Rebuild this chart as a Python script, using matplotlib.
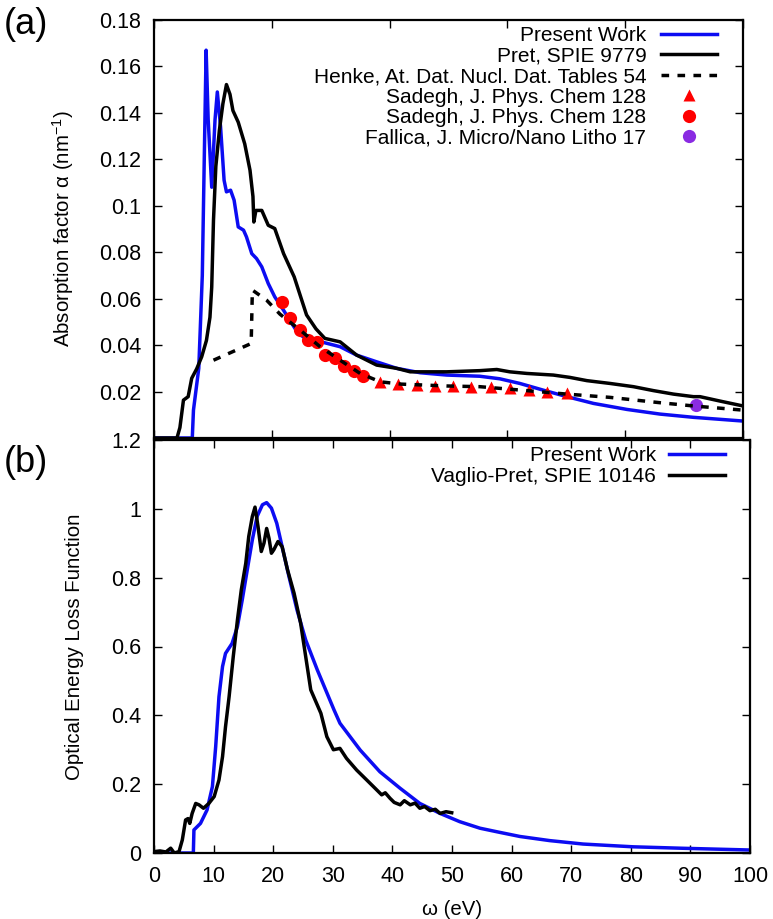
import matplotlib
matplotlib.use('Agg')
import matplotlib.pyplot as plt

plt.rcParams['font.family'] = ['Liberation Sans', 'DejaVu Sans']
plt.rcParams['mathtext.fontset'] = 'custom'
plt.rcParams['mathtext.rm'] = 'Liberation Sans'

# (a) absorption factor, nm^-1
pw_a_x = [0, 6.5, 6.7, 7.6, 8.2, 8.6, 8.85, 9.2, 9.8, 10.36, 10.75, 11.3, 11.9, 12.3, 13.0, 13.6,
          14.3, 15.2, 15.7, 16.6, 17.4, 18.3, 19.4, 20.5, 22.0, 23.4, 24.5, 26.0, 28.7, 31.6, 34.4,
          37.8, 41.2, 45.2, 49.7, 55.3, 58.7, 62.1, 66.1, 70.1, 74.6, 80.3, 85.9, 91.6, 100]
pw_a_y = [0, 0, 0.012, 0.03, 0.07, 0.13, 0.167, 0.137, 0.108, 0.137, 0.149, 0.134, 0.111, 0.106,
          0.1067, 0.1024, 0.0909, 0.0895, 0.0866, 0.0794, 0.0773, 0.0737, 0.0665, 0.0608, 0.055,
          0.0493, 0.045, 0.0425, 0.0412, 0.0393, 0.0357, 0.0328, 0.030, 0.0281, 0.0271, 0.0266,
          0.0255, 0.0235, 0.0206, 0.0178, 0.0149, 0.0123, 0.0103, 0.0089, 0.0073]

pret_a_x = [0, 3.9, 4.4, 5.0, 5.8, 6.4, 7.25, 8.1, 8.9, 9.5, 9.8, 10.1, 10.5, 11.1, 11.7, 12.3,
            12.9, 13.4, 14.3, 15.4, 16.3, 16.8, 16.95, 17.3, 18.3, 19.4, 20.5, 22.0, 23.8, 25.9,
            27.5, 29.0, 31.6, 34.4, 37.8, 41.2, 43.5, 49.7, 55.3, 58.2, 60.4, 63.3, 67.8, 70.6,
            73.5, 77.4, 81.4, 84.8, 88.2, 91.6, 92.7, 96.1, 100]
pret_a_y = [0, 0, 0.0045, 0.0163, 0.0178, 0.0257, 0.0298, 0.035, 0.042, 0.052, 0.065, 0.0938,
            0.117, 0.1325, 0.144, 0.1522, 0.148, 0.141, 0.136, 0.1267, 0.1153, 0.104, 0.093,
            0.098, 0.098, 0.0916, 0.0902, 0.0794, 0.0694, 0.053, 0.047, 0.0429, 0.0414, 0.0357,
            0.0314, 0.030, 0.0285, 0.0285, 0.029, 0.0295, 0.0285, 0.0278, 0.0271, 0.0261, 0.0247,
            0.0235, 0.0221, 0.0204, 0.0189, 0.0178, 0.0178, 0.0159, 0.0138]

henke_x = [10.1, 16.5, 16.7, 19.1, 21.4, 24.8, 28.2, 31.6, 35.0, 38.4, 42.0, 49.7, 55.3, 63.3,
           70.1, 77.4, 85.9, 91.6, 100]
henke_y = [0.0335, 0.0407, 0.0637, 0.0594, 0.0533, 0.0465, 0.0393, 0.0335, 0.0278, 0.0242,
           0.0232, 0.0224, 0.0221, 0.0204, 0.0189, 0.0175, 0.0152, 0.0138, 0.012]

sadegh_tri_x = [38.4, 41.5, 44.6, 47.7, 50.8, 53.9, 57.2, 60.4, 63.6, 66.8, 70.1]
sadegh_tri_y = [0.0243, 0.0234, 0.0228, 0.0226, 0.0224, 0.0221, 0.0221, 0.0214, 0.0206, 0.0199, 0.0192]

sadegh_circ_x = [21.7, 23.1, 24.8, 26.2, 27.7, 29.0, 30.7, 32.3, 34.0, 35.5]
sadegh_circ_y = [0.0587, 0.0517, 0.0465, 0.0421, 0.0412, 0.0357, 0.0343, 0.0309, 0.029, 0.0269]

fallica_x = [92.0]
fallica_y = [0.0142]

# (b) optical energy loss function
pw_b_x = [0, 6.6, 6.7, 7.8, 8.9, 9.8, 10.35, 10.9, 11.5, 12.0, 13.1, 14.0, 14.8, 15.65, 16.5,
          17.3, 18.2, 18.9, 19.7, 20.6, 21.5, 22.65, 24.0, 25.45, 27.4, 30.2, 31.2, 34.6, 37.9,
          41.3, 44.6, 48.0, 51.3, 54.7, 58.0, 61.4, 66.4, 72.0, 80.4, 88.8, 100]
pw_b_y = [0, 0, 0.067, 0.086, 0.125, 0.193, 0.309, 0.454, 0.542, 0.58, 0.609, 0.658, 0.735,
          0.823, 0.91, 0.978, 1.012, 1.018, 1.002, 0.958, 0.89, 0.803, 0.706, 0.619, 0.532,
          0.416, 0.377, 0.299, 0.236, 0.188, 0.144, 0.115, 0.091, 0.072, 0.06, 0.048, 0.036,
          0.026, 0.018, 0.0137, 0.0087]

vp_b_x = [0, 1.0, 2.0, 2.8, 3.4, 4.2, 4.75, 5.3, 5.7, 6.0, 6.4, 7.0, 7.55, 8.3, 9.2, 10.1, 10.9,
          11.5, 12.0, 12.6, 13.3, 14.0, 14.65, 15.4, 15.9, 16.5, 16.95, 17.45, 18.0, 18.45, 18.9,
          19.3, 19.7, 20.1, 20.8, 21.5, 22.4, 23.5, 24.6, 25.45, 26.3, 28.0, 29.0, 30.1, 31.2,
          32.3, 34.0, 35.7, 37.1, 38.2, 38.8, 39.6, 40.3, 41.3, 42.0, 43.0, 43.8, 44.6, 45.4,
          46.3, 47.2, 48.0, 49.0, 49.95]
vp_b_y = [0.004, 0.006, 0.003, 0.014, 0.0, 0.004, 0.038, 0.096, 0.1, 0.086, 0.115, 0.144, 0.14,
          0.13, 0.144, 0.164, 0.212, 0.28, 0.367, 0.454, 0.571, 0.677, 0.765, 0.842, 0.92, 0.978,
          1.005, 0.949, 0.876, 0.9, 0.943, 0.914, 0.871, 0.881, 0.905, 0.89, 0.823, 0.755, 0.668,
          0.571, 0.474, 0.406, 0.338, 0.3, 0.304, 0.275, 0.241, 0.212, 0.188, 0.169, 0.175, 0.159,
          0.147, 0.14, 0.152, 0.14, 0.145, 0.13, 0.135, 0.123, 0.127, 0.115, 0.12, 0.117]

ticks_a = [0.02, 0.04, 0.06, 0.08, 0.1, 0.12, 0.14, 0.16, 0.18]
ticks_a_lab = ['0.02', '0.04', '0.06', '0.08', '0.1', '0.12', '0.14', '0.16', '0.18']
ticks_b = [0, 0.2, 0.4, 0.6, 0.8, 1.0, 1.2]
ticks_b_lab = ['0', '0.2', '0.4', '0.6', '0.8', '1', '1.2']
ticks_x = list(range(0, 101, 10))

blue = '#0c0cf2'
fs = 15
fs_lab = 14.7
fs_tick = 15.5
lw = 2.5
W, H = 773, 919

fig = plt.figure(figsize=(W / 100, H / 100), dpi=100)
ax1 = fig.add_axes([154 / W, 1 - 438 / H, 589 / W, 418 / H])
ax2 = fig.add_axes([154 / W, 1 - 853 / H, 596 / W, 413 / H])

ax1.plot(pw_a_x, pw_a_y, color=blue, lw=lw, label='Present Work', zorder=2)
ax1.plot(pret_a_x, pret_a_y, color='black', lw=lw, label='Pret, SPIE 9779', zorder=3)
ax1.plot(sadegh_tri_x, sadegh_tri_y, ls='none', marker='^', ms=8, color='red', mec='none',
         label='Sadegh, J. Phys. Chem 128', zorder=4)
ax1.plot(sadegh_circ_x, sadegh_circ_y, ls='none', marker='o', ms=9.5, color='red', mec='none',
         label='Sadegh, J. Phys. Chem 128', zorder=4)
ax1.plot(fallica_x, fallica_y, ls='none', marker='o', ms=9.5, color='#8a2be2', mec='none',
         label='Fallica, J. Micro/Nano Litho 17', zorder=4)
ax1.plot(henke_x, henke_y, color='black', lw=lw, dashes=(2.2, 2.4),
         label='Henke, At. Dat. Nucl. Dat. Tables 54', zorder=5)

handles, labels = ax1.get_legend_handles_labels()
order = [0, 1, 5, 2, 3, 4]
ax1.legend([handles[i] for i in order], [labels[i] for i in order], loc='upper right',
           bbox_to_anchor=(0.956, 0.985), frameon=False, markerfirst=False, fontsize=fs,
           handlelength=2.7, handletextpad=0.7, labelspacing=0.07, borderpad=0,
           borderaxespad=0)

ax1.set_xlim(0, 100)
ax1.set_ylim(0, 0.18)
ax1.set_xticks([0, 20, 40, 60, 80, 100])
ax1.set_xticklabels([])
ax1.set_yticks(ticks_a)
ax1.set_yticklabels(ticks_a_lab)
ax1.set_ylabel('Absorption factor α (nm$^{-1}$)', fontsize=fs_lab, labelpad=17)

ax2.plot(pw_b_x, pw_b_y, color=blue, lw=lw, label='Present Work', zorder=2)
ax2.plot(vp_b_x, vp_b_y, color='black', lw=lw, label='Vaglio-Pret, SPIE 10146', zorder=3)
ax2.legend(loc='upper right', bbox_to_anchor=(0.958, 0.985), frameon=False, markerfirst=False,
           fontsize=fs, handlelength=2.7, handletextpad=0.6, labelspacing=0.1, borderpad=0,
           borderaxespad=0)

ax2.set_xlim(0, 100)
ax2.set_ylim(0, 1.2)
ax2.set_xticks(ticks_x)
ax2.set_yticks(ticks_b)
ax2.set_yticklabels(ticks_b_lab)
ax2.set_xlabel('ω (eV)', fontsize=fs_lab, labelpad=10)
ax2.set_ylabel('Optical Energy Loss Function', fontsize=fs_lab, labelpad=19.5)

for ax in (ax1, ax2):
    ax.tick_params(direction='in', top=True, right=True, length=6, width=1.0,
                   labelsize=fs_tick, pad=9)
    for s in ax.spines.values():
        s.set_linewidth(1.6)

fig.text(4 / W, 1 - 24 / H, '(a)', fontsize=26, va='center', ha='left')
fig.text(4 / W, 1 - 463 / H, '(b)', fontsize=26, va='center', ha='left')

fig.savefig('out.png', dpi=100)
